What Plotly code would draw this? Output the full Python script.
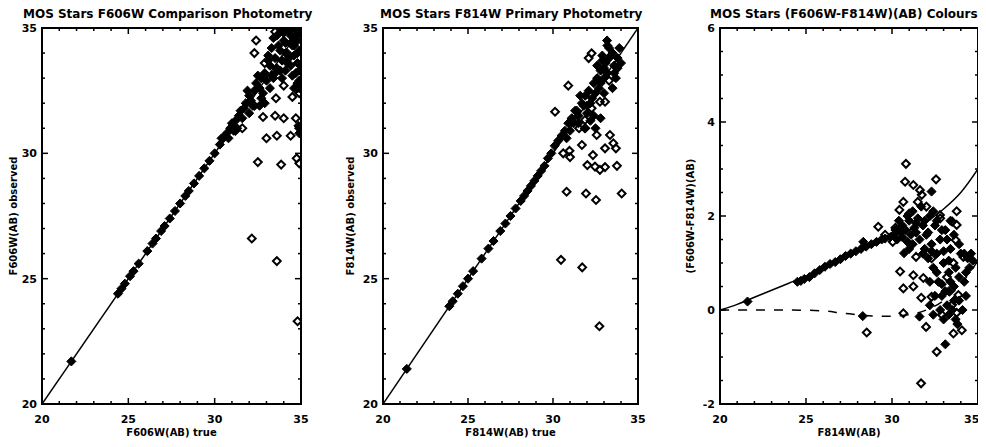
import plotly.graph_objects as go

# ---------------- Panel 1: F606W comparison photometry ----------------
p1_fill_true = [21.7, 24.4, 24.6, 24.8, 25.1, 25.3, 25.6, 26.1, 26.4, 26.6, 26.9, 27.1, 27.4, 27.7,
                28.0, 28.3, 28.5, 28.8, 29.1, 29.4, 29.7, 30.0, 30.3, 30.5, 30.7, 30.9, 31.0, 31.2,
                31.4, 31.5, 31.7, 31.8, 32.0, 32.1, 32.3, 32.4, 32.6, 32.7, 32.9, 33.0, 33.2, 33.3,
                33.5, 33.6, 33.8, 33.9, 34.1, 34.2, 34.4, 34.5, 34.7, 34.8, 34.9, 34.6, 34.8, 34.9,
                34.4, 34.7, 34.9, 34.1, 33.8, 34.3, 34.9, 34.6, 33.5, 32.8, 32.2, 31.6, 30.8, 31.9,
                32.5, 33.1, 33.7, 34.0, 33.4, 33.9, 34.5, 34.8,
                33.3, 33.6, 34.0, 34.3, 34.6, 34.8, 34.2, 34.5, 34.8, 33.9, 34.6, 34.9, 33.2, 32.9,
                32.6, 32.0, 31.3, 31.1, 30.4, 32.7, 33.4, 34.1, 34.7, 34.95, 34.4, 33.1, 34.85, 34.9]
p1_fill_obs = [21.7, 24.4, 24.6, 24.8, 25.1, 25.3, 25.6, 26.1, 26.4, 26.6, 26.9, 27.1, 27.4, 27.7,
               28.0, 28.3, 28.5, 28.8, 29.1, 29.4, 29.7, 30.0, 30.35, 30.6, 30.8, 31.0, 31.2, 31.3,
               31.5, 31.7, 31.8, 32.0, 32.3, 32.1, 32.5, 32.8, 32.6, 33.0, 33.2, 32.9, 33.5, 33.1,
               33.8, 33.4, 34.1, 33.7, 34.4, 34.0, 34.7, 34.3, 34.9, 34.5, 34.1, 33.9, 33.6, 33.3,
               33.5, 33.2, 32.9, 33.3, 33.3, 33.8, 34.8, 34.6, 33.2, 32.4, 31.9, 31.4, 30.6, 32.5,
               33.1, 33.7, 34.3, 34.8, 34.6, 34.9, 35.0, 32.6,
               34.2, 34.7, 34.5, 34.9, 34.3, 34.0, 33.6, 33.1, 32.8, 33.0, 32.6, 32.6, 32.6, 32.0,
               31.9, 31.6, 31.0, 30.9, 30.6, 32.2, 33.0, 34.0, 34.7, 34.95, 34.4, 33.9, 31.1, 30.8]
p1_open_true = [32.4, 32.3, 33.5, 32.3, 31.6, 32.8, 33.5, 34.0, 33.55, 34.0, 34.5, 34.7, 33.0,
                33.6, 34.4, 32.5, 33.85, 34.75, 34.9, 32.15, 33.6, 34.8, 34.9, 34.9, 31.2, 32.9]
p1_open_obs = [34.5, 34.0, 34.85, 31.9, 31.0, 31.45, 31.5, 31.4, 32.2, 32.7, 32.25, 31.4, 30.6,
               30.7, 30.7, 29.65, 29.55, 29.8, 29.6, 26.6, 25.7, 23.3, 32.4, 31.0, 30.9, 33.6]

# ---------------- Panel 2: F814W primary photometry ----------------
p2_fill_true = [21.4, 23.9, 24.1, 24.4, 24.7, 25.0, 25.3, 25.8, 26.2, 26.5, 26.9, 27.2, 27.5, 27.8,
                28.1, 28.3, 28.5, 28.7, 28.9, 29.1, 29.3, 29.5, 29.7, 29.9, 30.1, 30.3, 30.5, 30.7,
                30.9, 31.1, 31.2, 31.4, 31.5, 31.7, 31.9, 32.0, 32.1, 32.3, 32.4, 32.6, 32.7, 32.8,
                33.0, 33.1, 33.2, 32.2, 32.5, 32.0, 33.18, 33.4, 33.6, 33.3, 33.7, 32.9, 33.5, 32.6,
                33.0, 33.8, 31.3, 31.6,
                31.8, 32.2, 32.5, 32.8, 33.0, 33.3, 33.5, 33.6, 33.8, 34.0, 33.9, 32.9, 33.2, 31.5,
                31.9, 32.4, 32.8, 30.8, 31.0]
p2_fill_obs = [21.4, 23.9, 24.1, 24.4, 24.7, 25.0, 25.3, 25.8, 26.2, 26.5, 26.9, 27.2, 27.5, 27.8,
               28.1, 28.3, 28.5, 28.7, 28.9, 29.1, 29.3, 29.5, 29.8, 30.0, 30.3, 30.5, 30.7, 30.9,
               31.2, 31.4, 31.2, 31.7, 31.5, 32.0, 32.3, 31.9, 32.5, 32.2, 32.8, 33.0, 32.6, 33.3,
               33.0, 33.6, 33.2, 31.3, 31.0, 31.6, 34.5, 33.9, 33.5, 34.2, 33.0, 33.7, 32.6, 33.5,
               32.4, 33.4, 31.7, 32.3,
               31.9, 32.0, 32.4, 32.8, 33.4, 33.8, 34.0, 33.2, 33.8, 33.6, 34.2, 33.9, 34.3, 31.2,
               31.0, 31.5, 31.4, 30.6, 30.9]
p2_open_true = [32.27, 30.9, 30.12, 32.76, 33.06, 32.27, 31.88, 31.53, 31.88, 32.57, 33.35, 33.55,
                31.7, 33.06, 33.7, 30.6, 30.97, 31.0, 32.35, 32.02, 32.47, 32.76, 33.06, 33.76,
                30.8, 31.94, 32.53, 34.04, 30.47, 31.72, 32.73, 32.1, 33.3]
p2_open_obs = [33.99, 32.7, 31.66, 32.06, 32.06, 31.8, 31.33, 31.0, 31.0, 30.73, 30.73, 30.4,
               30.33, 30.2, 30.2, 30.0, 30.1, 29.85, 29.93, 29.53, 29.47, 29.34, 29.45, 29.5,
               28.47, 28.4, 28.14, 28.4, 25.75, 25.45, 23.1, 33.8, 32.9]

# ---------------- Panel 3: colours ----------------
p3_curve_x = [20, 21, 22, 23, 24, 25, 26, 27, 28, 29, 30, 31, 32, 33, 34, 35]
p3_curve_y = [0.0, 0.12, 0.27, 0.42, 0.57, 0.72, 0.9, 1.08, 1.25, 1.4, 1.55, 1.7, 1.88, 2.15, 2.5, 3.0]
p3_dash_x = [20, 22, 24, 26, 27, 28, 29, 30, 31, 32, 33, 34, 35]
p3_dash_y = [0.0, 0.0, 0.0, -0.02, -0.06, -0.1, -0.13, -0.13, -0.1, 0.0, 0.2, 0.55, 1.05]
p3_fill_x = [21.6, 24.5, 24.7, 24.9, 25.2, 25.5, 25.8, 26.1, 26.4, 26.7, 27.0, 27.3, 27.6, 27.9,
             28.2, 28.5, 28.8, 29.1, 29.4, 29.6, 29.9, 30.1, 30.3, 30.5, 30.6, 30.8, 31.0, 31.1,
             31.3, 31.5, 31.6, 31.8, 32.0, 32.2, 32.3, 32.5, 32.6, 32.8, 33.0, 33.1, 33.3, 33.4,
             33.6, 33.7, 33.9, 34.0, 34.2, 34.4, 30.7, 32.3, 28.3, 31.6, 33.1, 32.9, 33.2, 32.7,
             33.5, 33.0, 32.4, 31.9, 31.2, 30.9, 34.3, 33.8, 28.33, 32.1, 33.3, 31.4,
             30.2, 30.4, 30.6, 30.9, 31.0, 31.2, 31.4, 31.7, 31.9, 32.1, 32.4, 32.6, 32.9, 33.2,
             33.4, 31.8, 32.3, 33.0, 33.6, 33.9, 34.2, 34.5, 33.3,
             32.2, 32.5, 32.6, 32.8, 32.9, 33.1, 33.3, 33.4, 33.6, 33.7, 33.9, 34.1, 32.4, 32.2,
             34.3, 34.6, 34.7]
p3_fill_y = [0.18, 0.6, 0.62, 0.66, 0.7, 0.78, 0.85, 0.92, 0.98, 1.02, 1.08, 1.15, 1.2, 1.25,
             1.3, 1.35, 1.4, 1.45, 1.5, 1.52, 1.55, 1.6, 1.5, 1.65, 1.8, 1.7, 1.9, 1.6,
             1.75, 1.95, 1.5, 1.8, 1.6, 2.0, 1.4, 1.8, 1.2, 1.5, 1.0, 1.7, 0.8, 1.3,
             0.5, 0.9, 0.2, 1.2, 0.6, 1.1, 1.21, 2.52, -0.13, -0.14, -0.73, 0.3, 0.1, 0.6,
             0.0, -0.2, 0.9, 1.3, 1.4, 1.45, 0.3, -0.3, 1.45, 1.1, 0.4, 1.65,
             1.7, 1.9, 1.55, 2.0, 1.3, 2.1, 1.85, 2.2, 1.9, 1.65, 2.1, 1.9, 1.7, 1.5,
             1.9, 1.2, 1.25, 1.25, 1.6, 1.4, 1.2, 0.9, 1.05,
             0.6, 0.3, 0.8, 0.0, 0.55, 0.4, -0.1, 0.6, 0.2, -0.2, 0.7, 0.0, -0.1, 0.1,
             0.8, 1.2, 1.05]
p3_open_x = [30.81, 30.76, 32.56, 31.24, 31.63, 31.73, 30.66, 30.43, 33.76, 32.79, 33.5, 33.76,
             29.2, 30.04, 33.7, 34.15, 31.4, 32.3, 33.57, 30.47, 31.24, 31.82, 30.66, 31.24,
             32.3, 31.7, 33.86, 33.5, 33.76, 30.66, 28.53, 31.98, 33.57, 34.06, 32.6, 31.69,
             29.6, 30.2, 31.0, 32.0, 32.8, 33.2, 31.5, 32.9]
p3_open_y = [3.11, 2.73, 2.78, 2.66, 2.55, 2.45, 2.3, 2.13, 2.1, 2.02, 1.88, 1.81,
             1.77, 1.45, 1.49, 1.13, 1.13, 1.1, 1.0, 0.82, 0.74, 0.68, 0.46, 0.5,
             0.28, 0.26, 0.32, 0.11, -0.06, -0.07, -0.48, -0.36, -0.5, -0.43, -0.89, -1.56,
             1.6, 1.75, 2.05, 2.2, 1.95, 0.7, 2.3, -0.1]

diag = [20, 35]

# tick positions (major ones carry labels)
mag_major = [20, 25, 30, 35]
mag_labels = ["20", "25", "30", "35"]
mag_minor = [21, 22, 23, 24, 26, 27, 28, 29, 31, 32, 33, 34]
col_major = [-2, 0, 2, 4, 6]
col_labels = ["-2", "0", "2", "4", "6"]
col_minor = [-1.5, -1, -0.5, 0.5, 1, 1.5, 2.5, 3, 3.5, 4.5, 5, 5.5]

FONT = "DejaVu Sans"
BLACK = "black"
CLEAR = "rgba(0,0,0,0)"

# The page body has an 8px default margin, so the figure is drawn 8px in from the window edge.
OFF = 8
W, H = 986 - OFF, 447 - 2 * OFF
ytop, ybot = 1 - (28 - OFF) / H, 1 - (404 - OFF) / H
doms = [((42 - OFF) / W, (301 - OFF) / W),
        ((383 - OFF) / W, (638 - OFF) / W),
        ((720 - OFF) / W, (978 - OFF) / W)]

fig = go.Figure()

def fill(x, y, xa, ya):
    return go.Scatter(x=x, y=y, mode="markers", xaxis=xa, yaxis=ya, showlegend=False,
                      marker=dict(symbol="diamond", size=7, color=BLACK,
                                  line=dict(width=1, color=BLACK)))

def opn(x, y, xa, ya):
    return go.Scatter(x=x, y=y, mode="markers", xaxis=xa, yaxis=ya, showlegend=False,
                      marker=dict(symbol="diamond-open", size=6, color=BLACK,
                                  line=dict(width=2, color=BLACK)))

# panel 1
fig.add_trace(go.Scatter(x=diag, y=diag, mode="lines", xaxis="x", yaxis="y", showlegend=False,
                         line=dict(color=BLACK, width=1.5)))
fig.add_trace(opn(p1_open_true, p1_open_obs, "x", "y"))
fig.add_trace(fill(p1_fill_true, p1_fill_obs, "x", "y"))
# panel 2
fig.add_trace(go.Scatter(x=diag, y=diag, mode="lines", xaxis="x2", yaxis="y2", showlegend=False,
                         line=dict(color=BLACK, width=1.5)))
fig.add_trace(opn(p2_open_true, p2_open_obs, "x2", "y2"))
fig.add_trace(fill(p2_fill_true, p2_fill_obs, "x2", "y2"))
# panel 3
fig.add_trace(go.Scatter(x=p3_curve_x, y=p3_curve_y, mode="lines", xaxis="x3", yaxis="y3",
                         showlegend=False, line=dict(color=BLACK, width=1.5, shape="spline")))
fig.add_trace(go.Scatter(x=p3_dash_x, y=p3_dash_y, mode="lines", xaxis="x3", yaxis="y3",
                         showlegend=False, line=dict(color=BLACK, width=1.5, dash="dash",
                                                     shape="spline")))
fig.add_trace(opn(p3_open_x, p3_open_y, "x3", "y3"))
fig.add_trace(fill(p3_fill_x, p3_fill_y, "x3", "y3"))

tickfont = dict(family=FONT, size=11, color=BLACK, weight="bold")
titlefont = dict(family=FONT, size=10, color=BLACK, weight="bold")

layout = dict(width=W, height=H, margin=dict(l=0, r=0, t=0, b=0),
              paper_bgcolor="white", plot_bgcolor="white")

panels = [
    ([20, 35], mag_major, mag_labels, mag_minor, "F606W(AB) true", "F606W(AB) observed"),
    ([20, 35], mag_major, mag_labels, mag_minor, "F814W(AB) true", "F814W(AB) observed"),
    ([-2, 6], col_major, col_labels, col_minor, "F814W(AB)", "(F606W-F814W)(AB)"),
]

for i, (yr, ymaj, ylab, ymin, xt, yt) in enumerate(panels):
    s = "" if i == 0 else str(i + 1)
    xa = dict(domain=list(doms[i]), range=[20, 35], anchor=f"y{s}", showline=False, ticks="",
              tickmode="array", tickvals=mag_major, ticktext=mag_labels,
              gridcolor=CLEAR, zerolinecolor=CLEAR, automargin=False,
              tickfont=tickfont, ticklabelstandoff=7,
              title=dict(text=xt, font=titlefont, standoff=3))
    if i == 2:
        # keep the last label inside the window by nudging it left
        xa.update(tickvals=mag_major[:3], ticktext=mag_labels[:3])
        fig.add_annotation(text=mag_labels[3], x=mag_major[3], xref="x3",
                           y=0, yref="y3 domain", yanchor="top", yshift=-7, xshift=-7,
                           showarrow=False, font=tickfont)
    layout[f"xaxis{s}"] = xa
    layout[f"yaxis{s}"] = dict(domain=[ybot, ytop], range=yr, anchor=f"x{s}", showline=False,
                               ticks="", tickmode="array", tickvals=ymaj, ticktext=ylab,
                               gridcolor=CLEAR, zerolinecolor=CLEAR, automargin=False,
                               tickfont=tickfont, ticklabelstandoff=4,
                               title=dict(text=yt, font=titlefont, standoff=6))

    # inward tick marks on all four frame sides, placed on the axes' own scales
    xr, yrf = f"x{s}", f"y{s}"
    for vals, ln in [(mag_major, 6), (mag_minor, 3)]:
        for v in vals:
            for anc, sign in [(0, 1), (1, -1)]:
                fig.add_shape(type="line", xref=xr, x0=v, x1=v,
                              yref=f"{yrf} domain", ysizemode="pixel", yanchor=anc,
                              y0=0, y1=sign * ln, line=dict(color=BLACK, width=1.5),
                              layer="above")
    for vals, ln in [(ymaj, 6), (ymin, 3)]:
        for v in vals:
            for anc, sign in [(0, 1), (1, -1)]:
                fig.add_shape(type="line", yref=yrf, y0=v, y1=v,
                              xref=f"{xr} domain", xsizemode="pixel", xanchor=anc,
                              x0=0, x1=sign * ln, line=dict(color=BLACK, width=1.5),
                              layer="above")

fig.update_layout(**layout)

# frames around each panel
for s in ["", "2", "3"]:
    fig.add_shape(type="rect", xref=f"x{s} domain", yref=f"y{s} domain",
                  x0=0, x1=1, y0=0, y1=1, line=dict(color=BLACK, width=2),
                  fillcolor=CLEAR, layer="above")

titles = [("MOS Stars F606W Comparison Photometry", 168),
          ("MOS Stars F814W Primary Photometry", 511),
          ("MOS Stars (F606W-F814W)(AB) Colours", 844)]
for t, cx in titles:
    fig.add_annotation(text=t, x=(cx - OFF) / W, y=1 - (14 - OFF) / H, xref="paper",
                       yref="paper", showarrow=False, xanchor="center", yanchor="middle",
                       font=dict(family=FONT, size=12, color=BLACK, weight="bold"))

fig.write_html("out.html")
